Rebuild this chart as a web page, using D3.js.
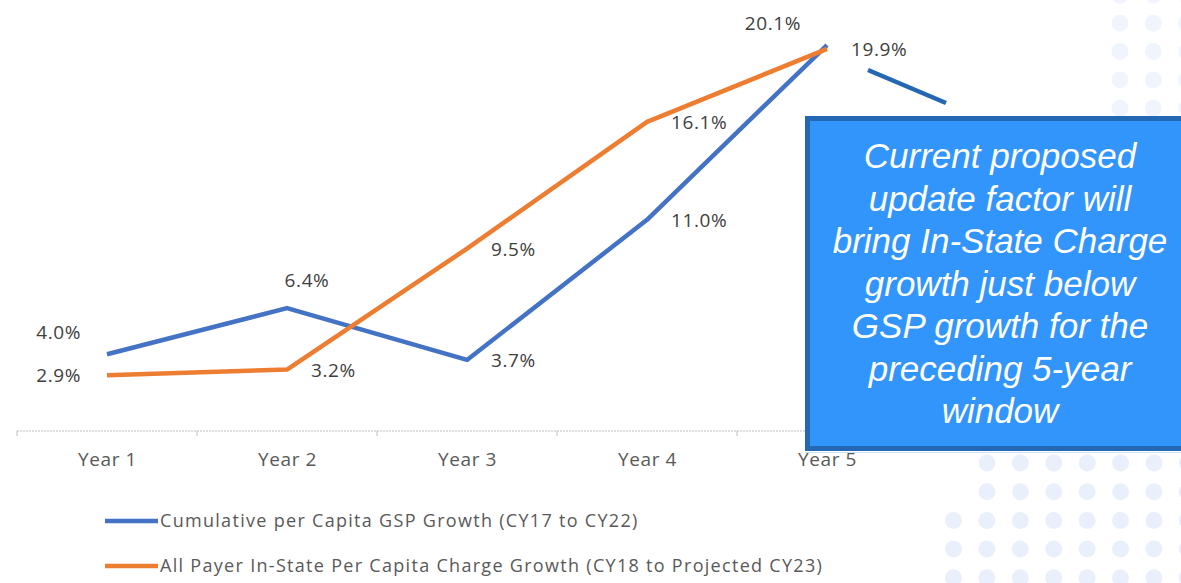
<!DOCTYPE html>
<html>
<head>
<meta charset="utf-8">
<script src="https://cdn.jsdelivr.net/npm/d3@7"></script>
<style>
  body { margin: 0; background: #fff; }
  svg { display: block; }
  .lbl { font-family: "Open Sans", "Liberation Sans", sans-serif; font-size: 19px; letter-spacing: 0.6px; fill: #404040; }
  .tick { font-family: "Open Sans", "Liberation Sans", sans-serif; font-size: 19px; letter-spacing: 0.6px; fill: #595959; }
  .leg { font-family: "Open Sans", "Liberation Sans", sans-serif; font-size: 18px; letter-spacing: 1.3px; fill: #595959; }
  .note { font-family: "Liberation Sans", Arial, sans-serif; font-size: 35px; font-style: italic; fill: #fff; }
</style>
</head>
<body>
<script>
// chart data
var years = ["Year 1", "Year 2", "Year 3", "Year 4", "Year 5"];
var gspGrowth = [4.0, 6.4, 3.7, 11.0, 20.1];
var chargeGrowth = [2.9, 3.2, 9.5, 16.1, 19.9];
var seriesNames = [
  "Cumulative per Capita GSP Growth (CY17 to CY22)",
  "All Payer In-State Per Capita Charge Growth (CY18 to Projected CY23)"
];
// where each data label sits relative to its point
var gspLabelPos = ["upleft", "up", "right", "right", "upleft"];
var chargeLabelPos = ["left", "right", "right", "right", "right"];
var noteLines = [
  "Current proposed",
  "update factor will",
  "bring In-State Charge",
  "growth just below",
  "GSP growth for the",
  "preceding 5-year",
  "window"
];

var width = 1181, height = 583;

var svg = d3.select("body").append("svg")
    .attr("width", width)
    .attr("height", height);

// faint dot pattern in the background (slide decoration)
var dots = [];
d3.range(5).forEach(function(r) {
  d3.range(3).forEach(function(c) {
    dots.push({x: 1120 + c * 33.3, y: -5 + r * 28.3, o: 0.35});
  });
});
d3.range(5).forEach(function(r) {
  var start = r < 2 ? 987 : 953.5;
  d3.range(8).forEach(function(c) {
    dots.push({x: start + c * 33.4, y: 463 + r * 28.7, o: 0.5});
  });
});
svg.append("g").selectAll("circle")
  .data(dots)
  .enter().append("circle")
  .attr("cx", function(d) { return d.x; })
  .attr("cy", function(d) { return d.y; })
  .attr("r", 8.5)
  .style("fill", "#d3e2f8")
  .style("opacity", function(d) { return d.o; });

var x = d3.scalePoint()
    .domain(years)
    .range([17, 917])
    .padding(0.5);

var y = d3.scaleLinear()
    .domain([0, 25])
    .range([431, 431 - 25 * 19.2]);

// category axis
var axis = svg.append("g")
    .attr("transform", "translate(0,431)")
    .call(d3.axisBottom(x).tickSize(0).tickPadding(22));
axis.select(".domain").remove();
axis.selectAll("text").attr("class", "tick").attr("fill", null);
axis.append("line")
    .attr("x1", 17).attr("x2", 917)
    .attr("stroke", "#bfbfbf")
    .attr("stroke-width", 1)
    .attr("stroke-dasharray", "2,1");
axis.selectAll(".sep")
  .data(d3.range(years.length))
  .enter().append("line")
  .attr("class", "sep")
  .attr("x1", function(i) { return x(years[i]) - x.step() / 2; })
  .attr("x2", function(i) { return x(years[i]) - x.step() / 2; })
  .attr("y1", 0).attr("y2", 5)
  .attr("stroke", "#bfbfbf");

var series = [
  {name: seriesNames[0], values: gspGrowth, pos: gspLabelPos, color: "#4472c4"},
  {name: seriesNames[1], values: chargeGrowth, pos: chargeLabelPos, color: "#ed7d31"}
];

var line = d3.line()
    .x(function(d, i) { return x(years[i]); })
    .y(function(d) { return y(d); });

series.forEach(function(s) {
  svg.append("path")
    .datum(s.values)
    .attr("d", line)
    .attr("fill", "none")
    .attr("stroke", s.color)
    .attr("stroke-width", 4.5)
    .attr("stroke-linejoin", "round");
});

var offsets = {
  left:   {dx: -26, dy: 7, anchor: "end"},
  right:  {dx: 24, dy: 7, anchor: "start"},
  up:     {dx: 20, dy: -21, anchor: "middle"},
  upleft: {dx: -26, dy: -15, anchor: "end"}
};

series.forEach(function(s) {
  svg.append("g").selectAll("text")
    .data(s.values)
    .enter().append("text")
    .attr("class", "lbl")
    .attr("x", function(d, i) { return x(years[i]) + offsets[s.pos[i]].dx; })
    .attr("y", function(d, i) { return y(d) + offsets[s.pos[i]].dy; })
    .attr("text-anchor", function(d, i) { return offsets[s.pos[i]].anchor; })
    .text(function(d) { return d3.format(".1f")(d) + "%"; });
});

// legend
var legend = svg.append("g").selectAll("g")
  .data(series)
  .enter().append("g")
  .attr("transform", function(d, i) { return "translate(105," + (521 + i * 45) + ")"; });
legend.append("line")
  .attr("x1", 0).attr("x2", 53)
  .attr("stroke", function(d) { return d.color; })
  .attr("stroke-width", 4.5);
legend.append("text")
  .attr("class", "leg")
  .attr("x", 55)
  .attr("y", 6)
  .text(function(d) { return d.name; });

// callout
svg.append("line")
  .attr("x1", 868).attr("y1", 70)
  .attr("x2", 946).attr("y2", 103)
  .attr("stroke", "#2467b3")
  .attr("stroke-width", 4.5);

svg.append("line")
  .attr("x1", 805).attr("x2", 1181)
  .attr("y1", 452.5).attr("y2", 452.5)
  .attr("stroke", "#cfe0f5");

svg.append("rect")
  .attr("x", 807.5).attr("y", 118.5)
  .attr("width", 420).attr("height", 330)
  .attr("fill", "#3195fb")
  .attr("stroke", "#2467b3")
  .attr("stroke-width", 5);

svg.append("g").selectAll("text")
  .data(noteLines)
  .enter().append("text")
  .attr("class", "note")
  .attr("x", 1000)
  .attr("y", function(d, i) { return 168 + i * 42.5; })
  .attr("text-anchor", "middle")
  .text(function(d) { return d; });
</script>
</body>
</html>
